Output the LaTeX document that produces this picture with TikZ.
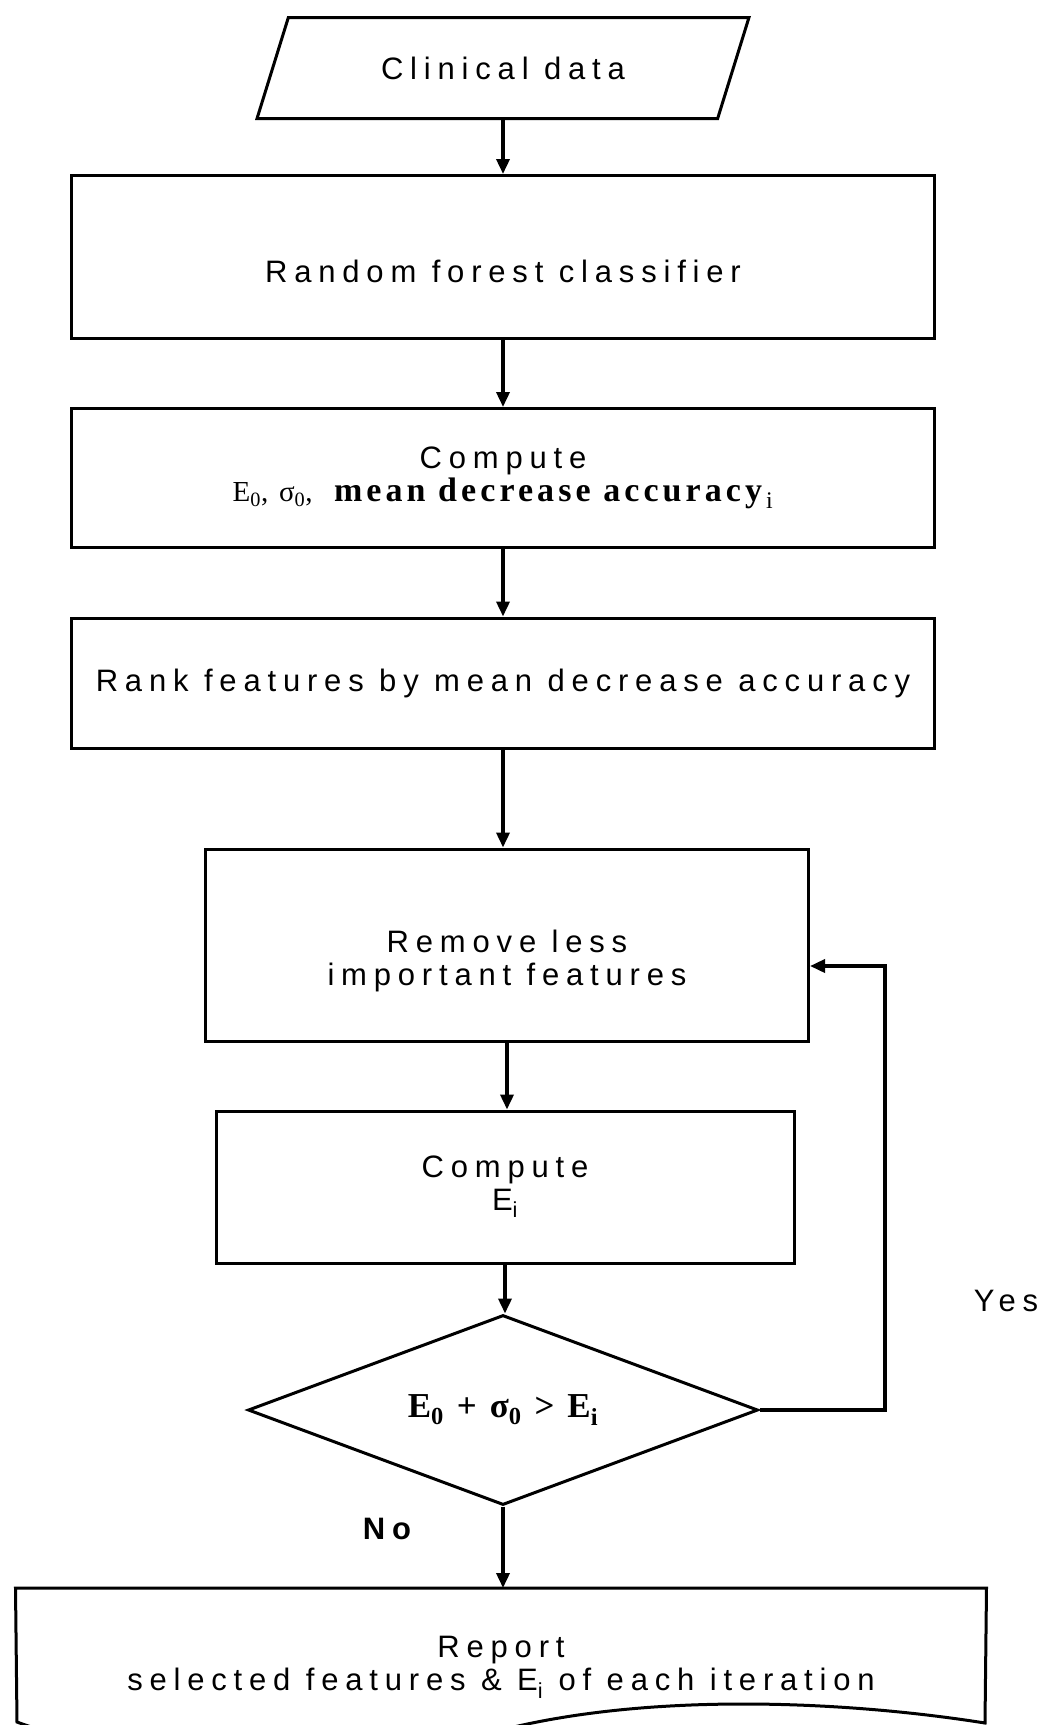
\documentclass[tikz,border=0pt]{standalone}
\usepackage{fontspec}
\setmainfont{Liberation Sans}[LetterSpace=22]
\newfontfamily\serifbox{Liberation Serif}[LetterSpace=12]
\usetikzlibrary{shapes.geometric,arrows.meta}

\begin{document}
\begin{tikzpicture}[x=1pt,y=-1pt,
	every node/.style={font=\fontsize{31}{33}\selectfont},
	procbox/.style={rectangle,draw,line width=3pt,align=center,inner sep=0},
	iobox/.style={trapezium,draw,line width=3pt,trapezium left angle=52,trapezium right angle=128,
		trapezium stretches=true,minimum width=493pt,minimum height=101pt,inner sep=0},
	decision/.style={diamond,draw,line width=3pt,aspect=2.7,minimum width=510pt,minimum height=190pt,inner sep=0},
	flowarrow/.style={line width=3.5pt,-{Triangle[length=15pt,width=13pt]}}]
	\useasboundingbox (0,0) rectangle (1043,1725);
	\clip (0,0) rectangle (1043,1725);

	\node [iobox] (data) at (503,68) {Clinical data};
	\node [procbox,minimum width=863pt,minimum height=163pt] (forest) at (503,257) {\rule{0pt}{52pt}Random forest classifier};
	\node [procbox,minimum width=863pt,minimum height=139pt] (comp0) at (503,478)
		{Compute\\{\serifbox\fontsize{29}{33}\selectfont E\textsubscript{0}, σ\textsubscript{0},\ \ \fontsize{34}{33}\selectfont\textbf{mean decrease accuracy}\textsubscript{i}}};
	\node [procbox,minimum width=863pt,minimum height=130pt] (rank) at (503,683) {Rank features by mean decrease accuracy};
	\node [procbox,minimum width=603pt,minimum height=192pt] (remove) at (507,945) {\rule{0pt}{55pt}Remove less\\important features};
	\node [procbox,minimum width=578pt,minimum height=152pt] (compi) at (505,1187) {Compute\\E\textsubscript{i}};
	\node [decision] (check) at (503,1410) {\serifbox\fontsize{35}{33}\selectfont\bfseries E\textsubscript{0} + σ\textsubscript{0} > E\textsubscript{i}};
	\node [procbox,draw=none,minimum width=968pt,minimum height=135pt] (report) at (501,1657)
		{\rule{0pt}{42pt}Report\\selected features \& E\textsubscript{i} of each iteration};
	% wavy bottom of the report
	\draw[line width=3pt] (report.north west) -- (report.north east) -- (985,1723)
		.. controls (840,1700) and (640,1692) .. (490,1733)
		.. controls (330,1790) and (120,1760) .. (17,1722) -- cycle;

	\node (yes) at (1006,1301) {Yes};
	\node [font=\fontsize{31}{33}\selectfont\bfseries] (no) at (387,1529) {No};

	\draw[flowarrow] (data.center |- data.bottom side) -- (data.center |- forest.north);
	\foreach \a/\b in {forest/comp0,comp0/rank,rank/remove,remove/compi,compi/check,check/report}
		\draw[flowarrow] (\a.south) -- (\a.south |- \b.north);

	\coordinate (loop) at (885,966);
	\draw[flowarrow] (check.east) -| (loop) -- (loop -| remove.east);
\end{tikzpicture}
\end{document}
